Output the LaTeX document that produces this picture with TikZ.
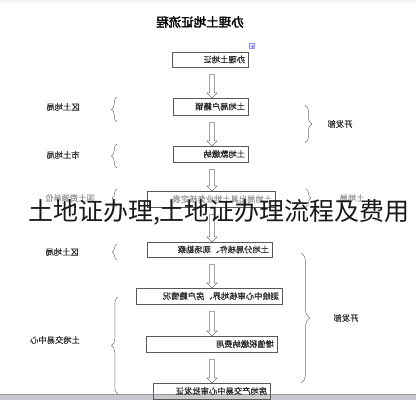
\documentclass[tikz,border=0pt]{standalone}
\usepackage{fontspec}
\newfontfamily\cjk{Noto Sans CJK SC}
\newfontfamily\cjkm[FakeBold=0.8]{Noto Sans CJK SC}
\newfontfamily\cjkb[FakeBold=2.5]{Noto Sans CJK SC}
\usetikzlibrary{shapes.arrows,decorations.pathreplacing,calc}
\tikzset{
  box/.style={draw=black!65, line width=0.5pt, xscale=-1, align=left, inner sep=3pt,
    font=\cjkm\fontsize{8.3}{9}\selectfont, text=black!85},
  lab/.style={xscale=-1, inner sep=0pt, font=\cjkm\fontsize{8.3}{9}\selectfont, text=black!80},
  harrow/.style={single arrow, draw=black!55, fill=white, line width=0.5pt, rotate=-90,
    single arrow head extend=2.6pt, inner sep=2.2pt},
  bracel/.style={draw=black!55, line width=0.5pt, decorate, decoration={brace, amplitude=#1}},
}
\newcommand\harr[2]{%
  \path let \p1=(#1.south), \p2=(#2.north) in
    node[harrow, minimum height={\y1-\y2-7pt}] (a#1#2) at (212pt,{0.5*\y1+0.5*\y2-2.5pt}) {};}
\begin{document}
\begin{tikzpicture}[x=1pt,y=-1pt]
\useasboundingbox (0,0) rectangle (416,400);
\fill[white] (0,0) rectangle (416,400);
% top strip and bottom bar
\fill[black!4] (0,0) rectangle (416,3);
\fill[blue!10!black!22] (0,394) rectangle (416,400);
\draw[black!40, line width=0.5pt] (0,394) -- (416,394);

% title
\node[xscale=-1, inner sep=0pt, font=\cjkb\fontsize{12.5}{13}\selectfont] (title) at (200,22) {办理土地证流程};

% boxes
\node[box, text width=70pt, minimum height=15pt] (b1) at (210,59.5) {办理土地证};
\node[draw=blue!45, fill=blue!6, minimum size=5pt, inner sep=0pt, line width=0.4pt] (hdl) at (252,46) {};
\draw[blue!50, line width=0.4pt] ($(hdl.center)+(-1.5,0)$) -- ($(hdl.center)+(1.5,0)$)
  ($(hdl.center)+(0,-1.5)$) -- ($(hdl.center)+(0,1.5)$);
\node[box, text width=69pt, minimum height=17pt] (b2) at (210.5,106.5) {土地局户籍销};
\node[box, text width=69pt, minimum height=16pt] (b3) at (210.5,154) {土地款缴纳};
\node[box, text width=122pt, minimum height=16pt, text=black!40] (b4) at (211,199) {土地局出具土地业务核定表};
\node[box, text width=119pt, minimum height=15pt] (b5) at (209.5,249.5) {土地分局核件、现场勘察};
\node[box, text width=140pt, minimum height=16pt] (b6) at (209,296) {测绘中心审核地界、房户籍情况};
\node[box, text width=125pt, minimum height=16pt] (b7) at (211.5,344) {增值税缴纳费用};
\node[box, text width=111pt, minimum height=16pt] (b8) at (211.5,391) {房地产交易中心审批发证};

% arrows
\harr{b1}{b2}
\harr{b2}{b3}
\harr{b3}{b4}
\harr{b4}{b5}
\harr{b5}{b6}
\harr{b6}{b7}
\harr{b7}{b8}

% left braces
\draw[bracel=5.5pt] (117,122) -- (117,97);
\draw[bracel=5.5pt] (117,168) -- (117,144);
\draw[bracel=5pt] (117,207) -- (117,189);
\draw[bracel=5pt] (117,260) -- (117,244);
\draw[bracel=6.5pt] (118,394) -- (118,297);
% right braces
\draw[bracel=7pt] (305,105) -- (305,143);
\draw[bracel=5pt] (306,189) -- (306,207);
\draw[bracel=9pt] (301,253) -- (301,383);

% labels
\node[lab] (l1) at (63,107) {区土地局};
\node[lab] (l2) at (63,155) {市土地局};
\node[lab, text=black!40] (l3) at (70,198) {国土资源单位};
\node[lab] (l4) at (62,252) {区土地局};
\node[lab] (l5) at (55,340) {土地交易中心};
\node[lab] (r1) at (340,124) {开发部};
\node[lab, text=black!40] (r2) at (352,198) {土地局};
\node[lab] (r3) at (346,318) {开发部};

% overlay caption
\node[inner sep=0pt, font=\cjk\fontsize{25}{25}\selectfont, text=black!90] (cap) at (219,212) {土地证办理,土地证办理流程及费用};
\end{tikzpicture}
\end{document}
